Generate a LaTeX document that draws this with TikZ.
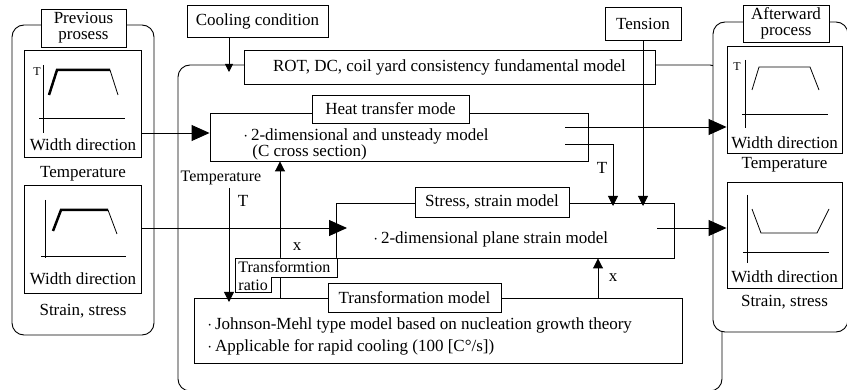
\documentclass[tikz,border=0pt]{standalone}
\usepackage{fontspec}
\setmainfont{Liberation Serif}
\usetikzlibrary{arrows.meta}
\begin{document}
\begin{tikzpicture}[x=1pt,y=-1pt, line width=0.9pt,
 box/.style={draw, fill=white, inner sep=0pt},
 rbox/.style={draw, fill=white, rounded corners=12pt, inner sep=0pt},
 txt/.style={inner sep=0pt, font=\fontsize{17}{16}\selectfont},
 stxt/.style={inner sep=0pt, font=\fontsize{16}{15}\selectfont},
 gtxt/.style={inner sep=0pt, font=\fontsize{12}{12}\selectfont},
 bigarrow/.style={-{Triangle[length=18pt,width=16pt]}},
 midarrow/.style={-{Triangle[length=10pt,width=10pt]}},
 smallarrow/.style={-{Triangle[length=8pt,width=8pt]}},
 thickline/.style={line width=2.5pt},
 graphline/.style={line width=0.8pt},
]
\useasboundingbox (0,0) rectangle (847,390);

% ---------- left: previous process ----------
\node[rbox, minimum width=142pt, minimum height=310pt] (prev) at (83,180) {};
\node[box, minimum width=85pt, minimum height=38pt, align=center, font=\fontsize{17}{16}\selectfont] (prevlbl) at (83.5,28) {Previous\\prosess};
\node[box, minimum width=117pt, minimum height=107pt] (pbox1) at (82.5,103.5) {};
\node[box, minimum width=117pt, minimum height=108pt] (pbox2) at (82.5,239) {};
\node[txt] (pw1) at (83,145) {Width direction};
\node[txt] (pt1) at (83,174) {Temperature};
\node[txt] (pw2) at (83,279) {Width direction};
\node[txt] (ps2) at (83,311) {Strain, stress};
% graph 1
\node[gtxt] (pg1) at (37,72) {T};
\draw[graphline] (43,65) -- (43,133);
\draw[graphline] (39,118) -- (125,118);
\draw[thickline] (49,95) -- (57,70) -- (110,70);
\draw[graphline] (110,70) -- (118,95);
% graph 2
\draw[graphline] (45,200) -- (45,258);
\draw[graphline] (41,256) -- (126,256);
\draw[thickline] (53,231) -- (61,210) -- (108,210);
\draw[graphline] (108,210) -- (117,234);

% ---------- main box ----------
\node[rbox, minimum width=544pt, minimum height=326pt] (main) at (450,228) {};
\node[box, minimum width=141pt, minimum height=32pt, txt] (cooling) at (257.5,21) {Cooling condition};
\node[box, minimum width=411pt, minimum height=34pt, txt] (rot) at (449.5,67) {ROT, DC, coil yard consistency fundamental model};
\node[box, minimum width=76pt, minimum height=33pt, txt] (tension) at (643,23.5) {Tension};

% heat transfer
\node[box, minimum width=378pt, minimum height=48pt] (heat) at (399,137) {};
\node[box, minimum width=157pt, minimum height=28pt, txt] (heatlbl) at (390.5,109) {Heat transfer mode};
\node[txt, anchor=west] (heat1) at (243,136) {$\cdot$\,2-dimensional and unsteady model};
\node[txt, anchor=west] (heat2) at (252,152) {(C cross section)};

% stress
\node[box, minimum width=338pt, minimum height=55pt] (stress) at (505,230.5) {};
\node[box, minimum width=154pt, minimum height=30pt, txt] (stresslbl) at (492,202) {Stress, strain model};
\node[txt, anchor=west] (stress1) at (373,239) {$\cdot$\,2-dimensional plane strain model};

% transformation
\node[box, minimum width=488pt, minimum height=65pt] (trans) at (438,330.5) {};
\node[box, minimum width=173pt, minimum height=29pt, txt] (translbl) at (414.5,297.5) {Transformation model};
\node[txt, anchor=west] (trans1) at (207,325) {$\cdot$\,Johnson-Mehl type model based on nucleation growth theory};
\node[txt, anchor=west] (trans2) at (207,347) {$\cdot$\,Applicable for rapid cooling (100 [C°/s])};

% ---------- right: afterward process ----------
\node[rbox, minimum width=135pt, minimum height=310pt] (after) at (780.5,177) {};
\node[box, minimum width=86pt, minimum height=37pt, align=center, font=\fontsize{17}{16}\selectfont] (afterlbl) at (786,23.5) {Afterward\\process};
\node[box, minimum width=115pt, minimum height=107pt] (abox1) at (784.5,99.5) {};
\node[box, minimum width=115pt, minimum height=106pt] (abox2) at (784.5,235) {};
\node[txt] (aw1) at (784.5,143) {Width direction};
\node[txt] (at1) at (784.5,165) {Temperature};
\node[txt] (aw2) at (784.5,277) {Width direction};
\node[txt] (as2) at (784.5,302) {Strain, stress};
% graph 3
\node[gtxt] (ag3) at (737,67) {T};
\draw[graphline] (745,60) -- (745,128);
\draw[graphline] (742,114) -- (828,114);
\draw[graphline] (752,90) -- (759,67) -- (810,67) -- (819,90);
% graph 4
\draw[graphline] (747,195) -- (747,263);
\draw[graphline] (743,252) -- (829,252);
\draw[graphline] (752,209) -- (761,233) -- (817,233) -- (829,209);

% ---------- coordinates ----------
\coordinate (r1) at (0,133);
\coordinate (r2) at (0,228);
\coordinate (h1) at (565,127);
\coordinate (h2) at (565,144);
\coordinate (tcol) at (613,0);
\coordinate (s1) at (0,206);
\coordinate (sin) at (347,228);
\coordinate (sout) at (657,228);
\coordinate (cc) at (229,0);
\coordinate (ccend) at (229,72);
\coordinate (tdown) at (229,188);
\coordinate (tend) at (229,302);
\coordinate (ux) at (280,0);
\coordinate (xx) at (598,0);

% ---------- connectors ----------
\draw[bigarrow] (pbox1.east |- r1) -- (heat.west |- r1);
\draw[bigarrow] (h1) -- (abox1.west |- h1);
\draw[midarrow] (h2) -| (tcol |- s1);
\draw[midarrow] (tension.south) -- (tension.south |- s1);
\draw[bigarrow] (pbox2.east |- r2) -- (sin);
\draw[bigarrow] (sout) -- (abox2.west |- sout);
\draw[smallarrow] (cooling.south -| cc) -- (ccend);
\draw[midarrow] (tdown) -- (tend);
\draw[midarrow] (trans.north -| ux) -- (heat.south -| ux);
\draw[midarrow] (trans.north -| xx) -- (stress.south -| xx);

% labels
\node[stxt] (templbl) at (221,178) {Temperature};
\node[txt] (tlbl1) at (243,201) {T};
\node[txt] (tlbl2) at (602,168) {T};
\node[txt] (xlbl1) at (297,247) {x};
\node[txt] (xlbl2) at (613,278) {x};

% transformation ratio box
\draw[fill=white] (235,258) -- (337,258) -- (337,277) -- (271,277) -- (271,292) -- (235,292) -- cycle;
\node[stxt, anchor=west] (tr1) at (238,267) {Transformtion};
\node[stxt, anchor=west] (tr2) at (238,285) {ratio};
\end{tikzpicture}
\end{document}
